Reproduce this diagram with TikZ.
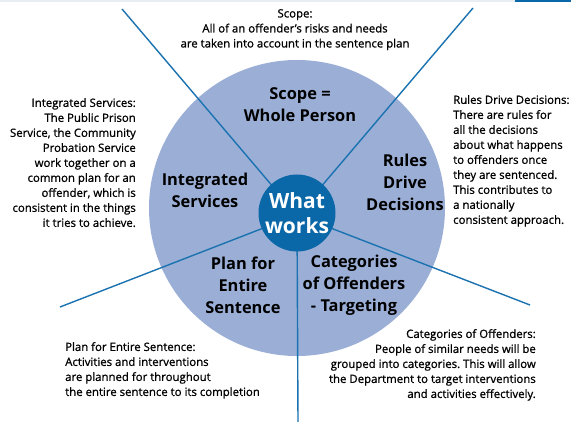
\documentclass[tikz,border=0pt]{standalone}
\usepackage{fontspec}
\setmainfont{Open Sans}
\newfontfamily\notefont{Open Sans}[FakeBold=0.9]
\frenchspacing
\definecolor{discfill}{HTML}{9BAFD6}
\definecolor{coreblue}{HTML}{0B68A8}
\definecolor{spokeblue}{HTML}{1A72B0}
\definecolor{bandgrey}{HTML}{E8ECF3}
\tikzset{
  spoke/.style={draw=spokeblue, line width=1.4pt},
  note/.style={inner sep=0pt, font=\notefont\fontsize{11.4}{15}\selectfont, text=black},
  segment/.style={inner sep=0pt, align=center, font=\bfseries\fontsize{16.4}{22}\selectfont, text=black},
}
\begin{document}
\begin{tikzpicture}[x=1pt, y=-1pt]
\useasboundingbox (0,0) rectangle (571,422);
\fill[white] (0,0) rectangle (571,422);
% header strip
\fill[bandgrey] (0,0) rectangle (515,2.5);
\fill[coreblue] (515,0) rectangle (571,2.5);

% large disc
\node[circle, fill=discfill, minimum size=296pt, inner sep=0pt] (disc) at (297,208) {};

% spoke end points
\coordinate (endUL) at (122,9);
\coordinate (endUR) at (473,8);
\coordinate (endLL) at (60,307);
\coordinate (endLR) at (530,305);
\coordinate (endD) at (298,422);
\coordinate (hub) at (297,215);

\draw[spoke] (hub) -- (endUL);
\draw[spoke] (hub) -- (endUR);
\draw[spoke] (hub) -- (endLL);
\draw[spoke] (hub) -- (endLR);
\draw[spoke] (hub) -- (endD);

% centre disc
\node[circle, fill=coreblue, minimum size=77pt, inner sep=0pt, align=center,
      text=white, font=\bfseries\fontsize{21}{25}\selectfont] (core) at (297,213) {What\\works};

% segment labels
\node[segment] (scope) at (300,105) {Scope =\\Whole Person};
\node[segment] (integ) at (205,190) {Integrated\\Services};
\node[segment] (rules) at (405,182) {Rules\\Drive\\Decisions};
\node[segment] (plan) at (243,285) {Plan for\\Entire\\Sentence};
\node[segment] (categ) at (354,285) {Categories\\of Offenders\\- Targeting};

% explanatory notes
\node[note, align=center, anchor=north] (scopenote) at (295,9)
  {Scope:\\All of an offender’s risks and needs\\are taken into account in the sentence plan};
\node[note, align=right, anchor=north east] (integnote) at (136,98)
  {Integrated Services:\\The Public Prison\\Service, the Community\\Probation Service\\work together on a\\common plan for an\\offender, which is\\consistent in the things\\it tries to achieve.};
\node[note, align=left, anchor=north west] (rulesnote) at (453,95)
  {Rules Drive Decisions:\\There are rules for\\all the decisions\\about what happens\\to offenders once\\they are sentenced.\\This contributes to\\a nationally\\consistent approach.};
\node[note, align=left, anchor=north west] (plannote) at (65,342)
  {Plan for Entire Sentence:\\Activities and interventions\\are planned for throughout\\the entire sentence to its completion};
\node[note, align=right, anchor=north east] (categnote) at (536,329)
  {Categories of Offenders:\\People of similar needs will be\\grouped into categories. This will allow\\the Department to target interventions\\and activities effectively.};
\end{tikzpicture}
\end{document}
